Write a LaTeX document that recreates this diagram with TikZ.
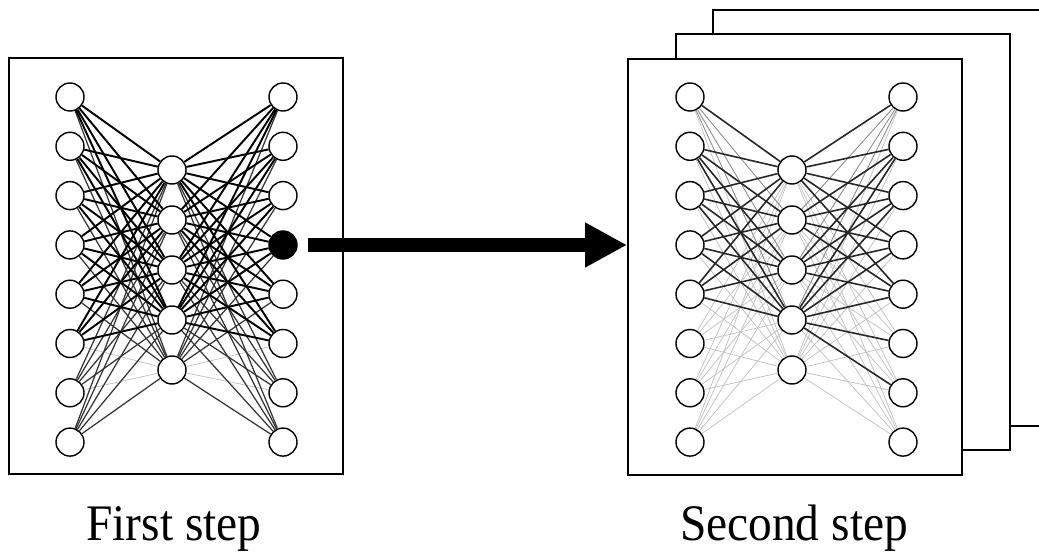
\documentclass[tikz,border=0pt]{standalone}
\usepackage{fontspec}
\setmainfont{Liberation Serif}
\usepackage{tikz}
\usetikzlibrary{arrows.meta}

\tikzset{
  neurone/.style={circle, draw, fill=white, line width=0.8pt, minimum size=0.56cm, inner sep=0pt},
  attivo/.style={neurone, fill=black},
  riquadro/.style={draw, fill=white, line width=1.1pt, minimum width=6.68cm, minimum height=8.32cm, inner sep=0pt},
  forte/.style={line width=1.1pt, black},
  medio/.style={line width=0.9pt, black!85},
  debole/.style={line width=0.7pt, black!80},
  grigio/.style={line width=0.5pt, black!45},
  sbiadito/.style={line width=0.4pt, black!25},
  freccia/.style={line width=7.4pt, -{Triangle[length=0.84cm, width=0.84cm]}},
  etichetta/.style={font=\fontsize{27}{30}\selectfont, anchor=base, yscale=1.08},
}

\begin{document}
\begin{tikzpicture}[x=0.02cm, y=-0.02cm]

\clip (0,0) rectangle (1039,554);

% fogli (dietro -> davanti)
\node[riquadro] (box4) at (880,218) {};
\node[riquadro] (box3) at (843,242) {};
\node[riquadro] (box2) at (795,267) {};
\node[riquadro] (box1) at (176,266) {};

% rete 1
\foreach \i in {1,...,8} \node[neurone] (xa\i) at (70,{97+49.3*(\i-1)}) {};
\foreach \j in {1,...,5} \node[neurone] (ha\j) at (172,{170+50*(\j-1)}) {};
\foreach \k in {1,2,3,5,6,7,8} \node[neurone] (ya\k) at (283,{97+49.3*(\k-1)}) {};
\node[attivo] (ya4) at (283,245) {}; % uscita scelta

\foreach \i in {6,7} {
  \draw[sbiadito] (xa\i) -- (ha5);
  \draw[sbiadito] (ya\i) -- (ha5);
}
\foreach \i in {1,...,5,8} {
  \draw[debole] (xa\i) -- (ha5);
  \draw[debole] (ya\i) -- (ha5);
}
\foreach \i in {7,8} \foreach \j in {1,...,4} {
  \draw[debole] (xa\i) -- (ha\j);
  \draw[debole] (ya\i) -- (ha\j);
}
\foreach \i in {1,...,6} \foreach \j in {1,...,4} {
  \draw[forte] (xa\i) -- (ha\j);
  \draw[forte] (ya\i) -- (ha\j);
}

% rete 2
\foreach \i in {1,...,8} \node[neurone] (xb\i) at (690,{97+49.3*(\i-1)}) {};
\foreach \j in {1,...,5} \node[neurone] (hb\j) at (792,{170+50*(\j-1)}) {};
\foreach \k in {1,...,8} \node[neurone] (yb\k) at (903,{97+49.3*(\k-1)}) {};

\foreach \i in {6,7,8} \foreach \j in {1,...,5} {
  \draw[sbiadito] (xb\i) -- (hb\j);
  \draw[sbiadito] (yb\i) -- (hb\j);
}
\foreach \i in {1,...,5} {
  \draw[sbiadito] (xb\i) -- (hb5);
  \draw[sbiadito] (yb\i) -- (hb5);
}
\foreach \j in {2,3,4} {
  \draw[grigio] (xb1) -- (hb\j);
  \draw[grigio] (yb1) -- (hb\j);
}
\foreach \i in {2,...,5} \foreach \j in {1,...,4} {
  \draw[medio] (xb\i) -- (hb\j);
  \draw[medio] (yb\i) -- (hb\j);
}
\draw[medio] (xb1) -- (hb1);
\draw[medio] (yb1) -- (hb1);
\draw[medio] (hb4) -- (yb6);
\draw[medio] (hb4) -- (yb7);

% freccia
\draw[freccia] ([xshift=0.2cm]ya4.east) -- (box2.west |- ya4);

% didascalie
\node[etichetta] (lab1) at (174,540) {First step};
\node[etichetta] (lab2) at (794,540) {Second step};

\end{tikzpicture}
\end{document}
